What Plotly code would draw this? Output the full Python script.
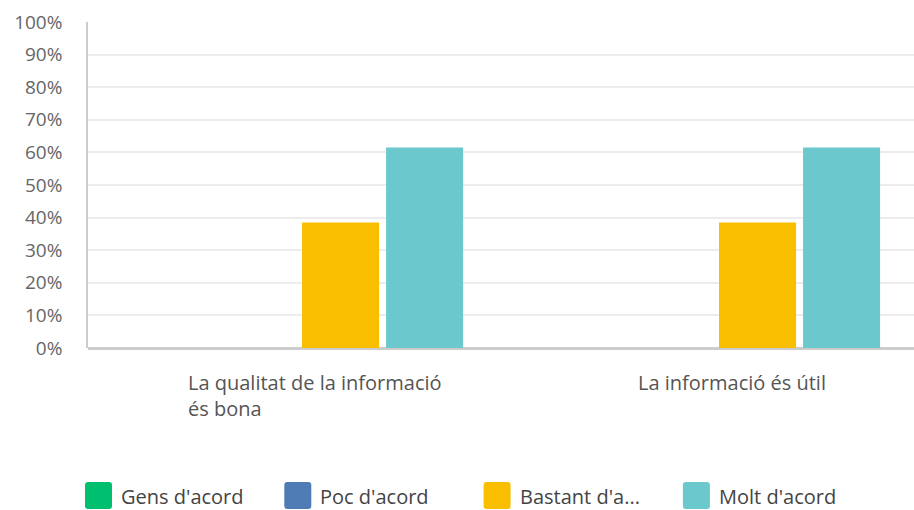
import plotly.graph_objects as go

categories = ["La qualitat de la informació<br>és bona", "La informació és útil"]
series_names = ["Gens d'acord", "Poc d'acord", "Bastant d'a...", "Molt d'acord"]
series_values = [
    [0.0, 0.0],
    [0.0, 0.0],
    [38.46, 38.46],
    [61.54, 61.54],
]
colors = ["#00BF6F", "#507CB6", "#F9BE00", "#6BC8CD"]
y_ticks = [0, 10, 20, 30, 40, 50, 60, 70, 80, 90, 100]

FONT = "Open Sans"
W, H = 914, 510
ML, MR, MT, MB = 88, 0, 22, 162
PW, PH = W - ML - MR, H - MT - MB

fig = go.Figure()
for name, vals, col in zip(series_names, series_values, colors):
    fig.add_trace(go.Bar(
        x=[0, 1], y=vals, name=name, marker=dict(color=col, line=dict(width=0)),
        showlegend=False, hoverinfo="skip",
    ))

# category labels (left-aligned multi-line blocks)
for i, cat in enumerate(categories):
    fig.add_annotation(
        x=i, xref="x", y=0, yref="paper", yanchor="top", xanchor="center",
        yshift=-19, xshift=16, text=cat, showarrow=False, align="left",
        font=dict(family=FONT, size=20, color="#555555"),
    )

# manual legend
sq = 27
lx0, lstep, ly = 85, 199.3, 482
for k, (name, col) in enumerate(zip(series_names, colors)):
    px = lx0 + k * lstep
    xa = (px - ML) / PW
    ya = (H - MB - ly) / PH
    r = 3
    path = (f"M{r},0 H{sq - r} Q{sq},0 {sq},{-r} V{-(sq - r)} Q{sq},{-sq} {sq - r},{-sq} "
            f"H{r} Q0,{-sq} 0,{-(sq - r)} V{-r} Q0,0 {r},0 Z")
    fig.add_shape(type="path", xref="paper", yref="paper", xsizemode="pixel",
                  ysizemode="pixel", xanchor=xa, yanchor=ya, path=path,
                  fillcolor=col, line=dict(width=0))
    fig.add_annotation(
        x=xa, xref="paper", y=ya, yref="paper", xanchor="left", yanchor="middle",
        xshift=sq + 7, yshift=-sq / 2 - 0.5, text=name, showarrow=False,
        font=dict(family=FONT, size=20, color="#444444"),
    )

fig.update_layout(
    width=W, height=H,
    margin=dict(l=ML, r=MR, t=MT, b=MB, pad=0),
    paper_bgcolor="white", plot_bgcolor="white",
    barmode="group", bargap=0.194, bargroupgap=0.083,
    showlegend=False,
    font=dict(family=FONT, color="#666666"),
)
fig.update_xaxes(
    type="linear", range=[-0.505, 1.476], showticklabels=False, showgrid=False,
    zeroline=False, showline=False, fixedrange=True,
)
fig.update_yaxes(
    range=[0, 100], tickvals=y_ticks, ticktext=[f"{v}%" for v in y_ticks],
    showgrid=True, gridcolor="#ececec", gridwidth=1.5, zeroline=True,
    zerolinecolor="#cccccc", zerolinewidth=2.5, showline=True, linecolor="#cccccc",
    linewidth=1.5, ticklabelstandoff=20,
    tickfont=dict(family=FONT, size=19, color="#666666"), fixedrange=True,
)

fig.write_html(
    "out.html",
    config={"displayModeBar": False},
    post_script="document.body.style.margin='0';document.body.style.overflow='hidden';",
)
